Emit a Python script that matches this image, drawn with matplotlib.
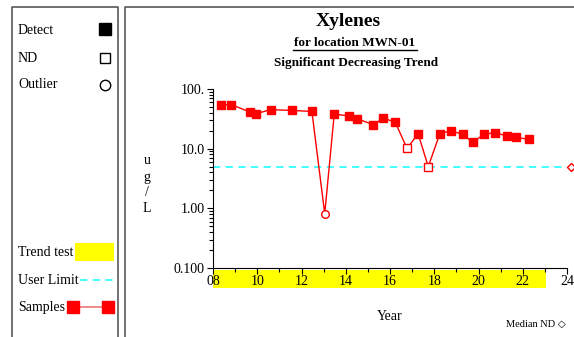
import matplotlib.pyplot as plt
from matplotlib.patches import Rectangle
from matplotlib.lines import Line2D
from matplotlib.ticker import FixedLocator, FuncFormatter, LogLocator, NullFormatter
import matplotlib.transforms as mtransforms

plt.rcParams['font.family'] = ['Liberation Serif', 'DejaVu Serif']

# sample dates (decimal year, 2000-based) and results in ug/L
years = [8.35, 8.83, 9.67, 9.94, 10.6, 11.57, 12.47, 13.05, 13.48, 14.16, 14.51,
         15.25, 15.70, 16.24, 16.77, 17.27, 17.73, 18.25, 18.74, 19.28, 19.74,
         20.25, 20.73, 21.30, 21.71, 22.27]
values = [54.6, 54.6, 41.2, 38.5, 45.0, 43.8, 42.0, 0.81, 38.0, 35.3, 31.8,
          25.2, 32.7, 27.6, 10.1, 17.8, 5.0, 17.8, 20.0, 17.4, 12.8,
          17.4, 18.5, 16.3, 15.5, 14.3]
kind = ['D', 'D', 'D', 'D', 'D', 'D', 'D', 'O', 'D', 'D', 'D',
        'D', 'D', 'D', 'N', 'D', 'N', 'D', 'D', 'D', 'D',
        'D', 'D', 'D', 'D', 'D']

user_limit = 5.0
median_nd = 5.0
trend_start, trend_end = 8.0, 23.04
x_ticks = [8, 10, 12, 14, 16, 18, 20, 22, 24]
y_ticks = [0.1, 1, 10, 100]
y_labels = {0.1: '0.100', 1: '1.00', 10: '10.0', 100: '100.'}


def main():
    W, H = 574, 337
    fig = plt.figure(figsize=(W / 100, H / 100), dpi=100)

    def fx(px):
        return px / W

    def fy(py):
        return 1 - py / H

    # panel frames
    border = '#4a4a4a'
    fig.add_artist(Line2D([fx(12), fx(12), fx(118), fx(118)], [0, fy(7), fy(7), 0],
                          color=border, lw=1.1))
    fig.add_artist(Line2D([fx(125), fx(125), 1.0], [0, fy(7), fy(7)],
                          color=border, lw=1.1))

    # left legend panel
    fs = 10
    for label, py in [('Detect', 30), ('ND', 58), ('Outlier', 85),
                      ('Trend test', 252), ('User Limit', 280), ('Samples', 307)]:
        fig.text(fx(18), fy(py), label, fontsize=fs, va='center', ha='left')
    fig.add_artist(Line2D([fx(105)], [fy(29)], marker='s', ms=8.5, color='black', lw=0))
    fig.add_artist(Line2D([fx(105)], [fy(58)], marker='s', ms=7.5, mfc='white',
                          mec='black', mew=1, lw=0))
    fig.add_artist(Line2D([fx(105)], [fy(85)], marker='o', ms=7.5, mfc='white',
                          mec='black', mew=1, lw=0))
    fig.add_artist(Rectangle((fx(75), fy(261)), fx(39), 18 / H, color='#ffff00', lw=0))
    fig.add_artist(Line2D([fx(80), fx(114)], [fy(280), fy(280)], color='#33ffff',
                          lw=1.3, ls=(0, (4, 3))))
    fig.add_artist(Line2D([fx(73), fx(108)], [fy(307), fy(307)], color='#f08080', lw=1.3))
    fig.add_artist(Line2D([fx(73), fx(108)], [fy(307), fy(307)], marker='s', ms=8.5,
                          color='red', lw=0))

    # titles
    fig.text(fx(348), fy(22), 'Xylenes', fontsize=14, fontweight='bold',
             ha='center', va='center')
    fig.text(fx(355), fy(43), 'for location MWN-01', fontsize=9.5,
             fontweight='bold', ha='center', va='center')
    fig.add_artist(Line2D([fx(293), fx(417)], [fy(50), fy(50)], color='black', lw=1))
    fig.text(fx(356), fy(63), 'Significant Decreasing Trend', fontsize=9.5,
             fontweight='bold', ha='center', va='center')

    # main axes
    ax = fig.add_axes([fx(213), fy(268), fx(567) - fx(213), (268 - 89) / H])
    ax.set_yscale('log')
    ax.set_xlim(8, 24)
    ax.set_ylim(0.1, 100)
    for s in ['top', 'right']:
        ax.spines[s].set_visible(False)

    ax.xaxis.set_major_locator(FixedLocator(x_ticks))
    ax.xaxis.set_minor_locator(FixedLocator(list(range(9, 24, 2))))
    ax.xaxis.set_major_formatter(FuncFormatter(lambda v, p: '%02d' % int(round(v))))
    ax.yaxis.set_major_locator(FixedLocator(y_ticks))
    ax.yaxis.set_major_formatter(FuncFormatter(lambda v, p: y_labels.get(round(v, 3), '')))
    ax.yaxis.set_minor_locator(LogLocator(base=10, subs=range(2, 10)))
    ax.yaxis.set_minor_formatter(NullFormatter())
    ax.tick_params(axis='both', which='major', labelsize=10, length=4, width=0.8, pad=2)
    ax.tick_params(axis='both', which='minor', length=3, width=0.8)
    ax.tick_params(axis='x', which='major', pad=1)

    # trend test band under the x axis
    trans = mtransforms.blended_transform_factory(ax.transData, ax.transAxes)
    ax.add_patch(Rectangle((trend_start, -0.113), trend_end - trend_start, 0.102,
                           transform=trans, color='#ffff00', lw=0, clip_on=False,
                           zorder=0.5))

    # user limit
    ax.axhline(user_limit, color='#33ffff', lw=1.3, ls=(0, (4, 3)), zorder=1)

    # samples
    ax.plot(years, values, color='red', lw=1, zorder=2)
    for x, v, k in zip(years, values, kind):
        if k == 'D':
            ax.plot(x, v, marker='s', ms=6, color='red', lw=0, zorder=3)
        elif k == 'N':
            ax.plot(x, v, marker='s', ms=6, mfc='white', mec='red', mew=1,
                    lw=0, zorder=3)
        else:
            ax.plot(x, v, marker='o', ms=5.5, mfc='white', mec='red', mew=1,
                    lw=0, zorder=3)
    ax.plot(24.17, median_nd, marker='D', ms=4.5, mfc='white', mec='red', mew=1,
            lw=0, clip_on=False, zorder=3)

    # axis labels
    fig.text(fx(147), fy(185), 'u\ng\n/\nL', fontsize=10, ha='center', va='center',
             linespacing=1.3)
    fig.text(fx(390), fy(316), 'Year', fontsize=10, ha='center', va='center')
    fig.text(fx(566), fy(324), 'Median ND \u25c7', fontsize=7.5, ha='right',
             va='center', family=['Liberation Serif', 'DejaVu Sans'])

    fig.savefig('out.png', dpi=100)


if __name__ == '__main__':
    main()
